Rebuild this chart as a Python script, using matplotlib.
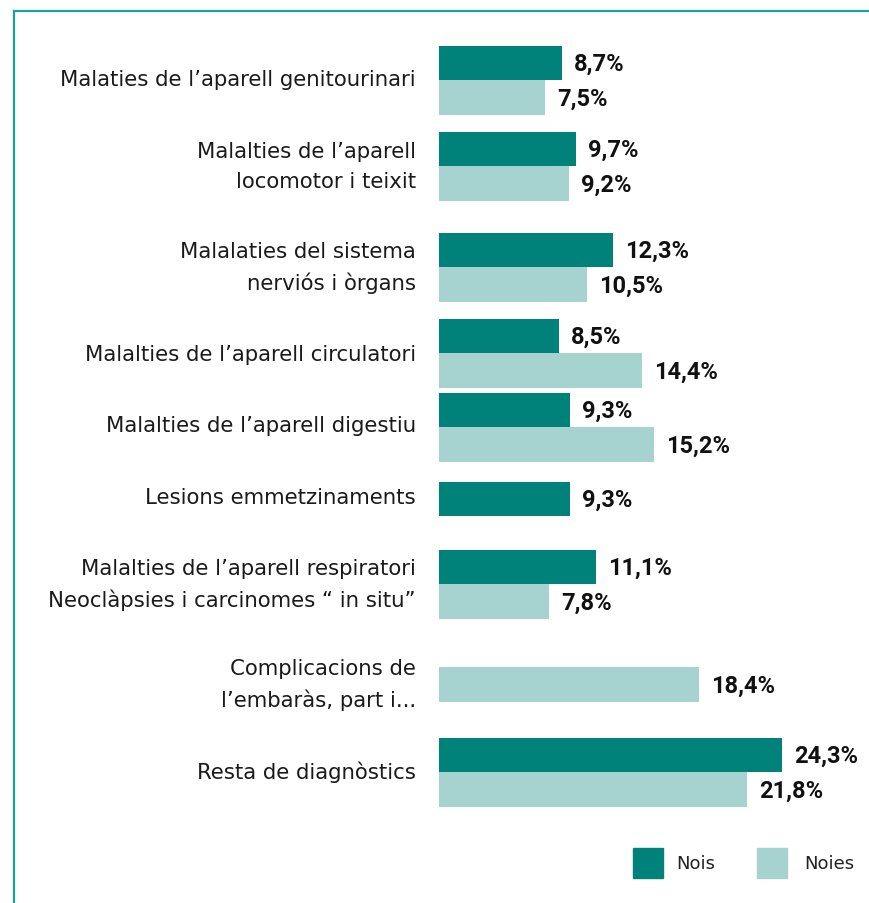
import matplotlib
matplotlib.use("Agg")
import matplotlib.pyplot as plt
from matplotlib.patches import Rectangle
from matplotlib.lines import Line2D

categories = [
    "Malaties de l\u2019aparell genitourinari",
    "Malalties de l\u2019aparell\nlocomotor i teixit",
    "Malalaties del sistema\nnervi\u00f3s i \u00f2rgans",
    "Malalties de l\u2019aparell circulatori",
    "Malalties de l\u2019aparell digestiu",
    "Lesions emmetzinaments",
    "Malalties de l\u2019aparell respiratori\nNeocl\u00e0psies i carcinomes \u201c in situ\u201d",
    "Complicacions de\nl\u2019embar\u00e0s, part i...",
    "Resta de diagn\u00f2stics",
]
nois = [8.7, 9.7, 12.3, 8.5, 9.3, 9.3, 11.1, None, 24.3]
noies = [7.5, 9.2, 10.5, 14.4, 15.2, None, 7.8, 18.4, 21.8]
series_names = ["Nois", "Noies"]

# layout: boundary between the two bars of each group (pixels from top)
group_pos = [81, 167, 268, 354, 428, 517, 585, 668, 773]
label_pos = [80, 167, 268, 355, 426, 498, 585, 685, 772]
bar_h = 34.5

c_dark = "#00827A"
c_light = "#A6D2CF"
c_border = "#17A39B"
LFONT = "DejaVu Sans"
VFONT = "Roboto"

W, H = 869, 904
fig = plt.figure(figsize=(W / 100, H / 100), dpi=100)

x0 = 439
px_per = 14.13
ax = fig.add_axes([x0 / W, 0, (W - x0) / W, 1])
ax.set_xlim(0, (W - x0) / px_per)
ax.set_ylim(H, 0)
ax.axis("off")

def vlabel(v):
    return f"{v:.1f}%".replace(".", ",")

for i, cat in enumerate(categories):
    yb = group_pos[i]
    if nois[i] is not None:
        ax.barh(yb - bar_h / 2, nois[i], height=bar_h, color=c_dark, left=0)
        ax.text(nois[i] + 12 / px_per, yb - bar_h / 2 + 1, vlabel(nois[i]),
                va="center", ha="left", fontsize=17, fontweight="bold", family=VFONT, color="#111111")
    if noies[i] is not None:
        ax.barh(yb + bar_h / 2, noies[i], height=bar_h, color=c_light, left=0)
        ax.text(noies[i] + 12 / px_per, yb + bar_h / 2 + 1, vlabel(noies[i]),
                va="center", ha="left", fontsize=17, fontweight="bold", family=VFONT, color="#111111")
    fig.text(416 / W, 1 - label_pos[i] / H, cat, ha="right", va="center", fontsize=15.3,
             family=LFONT, color="#1a1a1a", linespacing=1.6, multialignment="right")

# border lines
fig.add_artist(Line2D([14.5 / W, 14.5 / W], [0, 1 - 12 / H], color=c_border, lw=1.6))
fig.add_artist(Line2D([14.5 / W, 1], [1 - 12 / H, 1 - 12 / H], color=c_border, lw=1.6))

# legend
for (sx, tx, col, name) in [(633, 676, c_dark, series_names[0]), (757, 804, c_light, series_names[1])]:
    fig.add_artist(Rectangle((sx / W, 1 - 879 / H), 30 / W, 30 / H, color=col, transform=fig.transFigure))
    fig.text(tx / W, 1 - 864 / H, name, ha="left", va="center", fontsize=13, family=LFONT, color="#222222")

fig.savefig("out.png", dpi=100)
